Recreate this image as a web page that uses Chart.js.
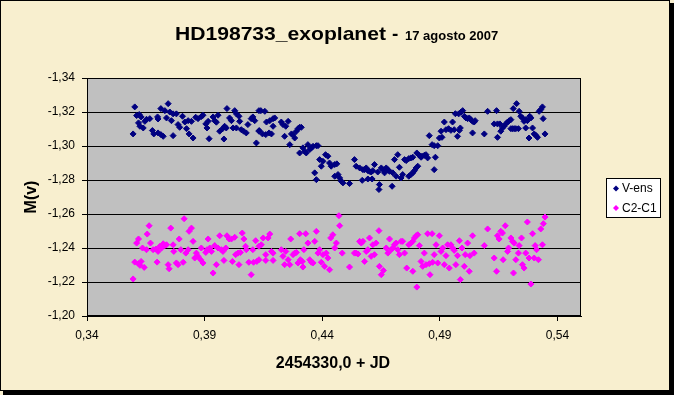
<!DOCTYPE html>
<html>
<head>
<meta charset="utf-8">
<title>HD198733_exoplanet</title>
<script src="https://cdn.jsdelivr.net/npm/chart.js@4.4.0/dist/chart.umd.min.js"></script>
<style>
  html, body { margin: 0; padding: 0; background: #fff; }
  canvas { display: block; }
</style>
</head>
<body>
<canvas id="chart" width="674" height="395"></canvas>
<script>
// axis ticks
const xTicks = [0.34, 0.39, 0.44, 0.49, 0.54];
const yTicks = [-1.34, -1.32, -1.30, -1.28, -1.26, -1.24, -1.22, -1.20];
const seriesNames = ['V-ens', 'C2-C1'];

// V-ens : JD fraction / magnitude
const vensJD = [
  0.3603,0.3596,0.3611,0.3622,0.3630,0.3619,0.3625,0.3639,0.3646,0.3653,
  0.3667,0.3678,0.3684,0.3702,0.3714,0.3724,0.3700,0.3702,0.3714,0.3731,
  0.3745,0.3752,0.3766,0.3780,0.3738,0.3759,0.3766,0.3787,0.3794,0.3806,
  0.3816,0.3823,0.3830,0.3834,0.3844,0.3851,0.3862,0.3872,0.3886,0.3893,
  0.3905,0.3910,0.3915,0.3919,0.3936,0.3943,0.3950,0.3957,0.3964,0.3975,
  0.3985,0.3982,0.3992,0.3995,0.4006,0.4014,0.4028,0.4035,0.4046,0.4021,
  0.4035,0.4049,0.4056,0.4066,0.4077,0.4084,0.4098,0.4105,0.4113,0.4120,
  0.4131,0.4131,
  0.4139,0.4156,0.4132,0.4146,0.4160,0.4174,0.4184,0.4163,0.4177,0.4191,
  0.4191,0.4198,0.4226,0.4233,0.4245,0.4255,0.4240,0.4262,0.4269,0.4276,
  0.4283,0.4290,0.4297,0.4304,0.4311,0.4304,0.4318,0.4325,0.4332,0.4339,
  0.4347,0.4354,0.4361,0.4375,0.4382,0.4368,0.4375,0.4389,0.4396,0.4403,
  0.4414,0.4424,0.4431,0.4438,0.4453,0.4462,0.4453,0.4467,0.4474,0.4481,
  0.4488,0.4516,0.4537,0.4544,0.4559,0.4573,0.4580,0.4587,0.4594,0.4601,
  0.4608,0.4615,0.4622,0.4636,0.4570,0.4594,0.4612,0.4643,0.4641,0.4651,
  0.4658,0.4665,0.4672,0.4679,0.4686,0.4697,0.4700,0.4707,0.4721,0.4728,
  0.4714,0.4735,0.4742,0.4750,0.4757,0.4768,0.4768,
  0.4777,0.4785,0.4777,0.4785,0.4792,0.4799,0.4806,0.4802,0.4813,0.4824,
  0.4834,0.4841,0.4848,0.4820,0.4881,0.4876,0.4855,0.4867,0.4876,0.4891,
  0.4898,0.4909,0.4905,0.4919,0.4926,0.4937,0.4947,0.4954,0.4961,0.4975,
  0.4983,0.4987,0.4966,0.4980,0.4990,0.4997,0.5004,0.5011,0.5018,0.5025,
  0.5032,0.5039,0.5046,0.5050,0.5039,0.5089,0.5103,0.5141,0.5131,0.5145,
  0.5155,0.5145,0.5159,0.5166,0.5173,0.5180,0.5188,0.5195,0.5202,0.5202,
  0.5209,0.5216,0.5223,0.5234,0.5212,0.5226,0.5237,0.5244,0.5251,0.5258,
  0.5265,0.5272,0.5282,0.5287,0.5265,0.5279,0.5294,0.5301,0.5308,0.5315,
  0.5322,0.5329,0.5336,0.5339,0.5347
];
const vensM = [
  -1.3230,-1.3071,-1.3179,-1.3185,-1.3171,-1.3136,-1.3116,-1.3106,-1.3145,-1.3157,
  -1.3161,-1.3091,-1.3071,-1.3077,-1.3067,-1.3057,-1.3171,-1.3159,-1.3220,-1.3208,
  -1.3249,-1.3200,-1.3189,-1.3189,-1.3165,-1.3149,-1.3061,-1.3126,-1.3110,-1.3175,
  -1.3141,-1.3102,-1.3149,-1.3071,-1.3145,-1.3047,-1.3169,-1.3161,-1.3173,-1.3181,
  -1.3130,-1.3106,-1.3145,-1.3043,-1.3171,-1.3149,-1.3140,-1.3181,-1.3087,-1.3100,
  -1.3116,-1.3041,-1.3106,-1.3220,-1.3165,-1.3149,-1.3208,-1.3189,-1.3175,-1.3106,
  -1.3106,-1.3145,-1.3096,-1.3087,-1.3077,-1.3126,-1.3161,-1.3171,-1.3149,-1.3018,
  -1.3208,-1.3087,
  -1.3208,-1.3204,-1.3091,-1.3071,-1.3067,-1.3077,-1.3071,-1.3141,-1.3149,-1.3161,
  -1.3116,-1.3165,-1.3141,-1.3126,-1.3116,-1.3145,-1.3057,-1.3008,-1.3071,-1.3067,
  -1.3047,-1.3087,-1.3102,-1.3110,-1.3110,-1.2959,-1.2989,-1.2969,-1.2959,-1.3008,
  -1.2979,-1.2989,-1.2998,-1.3002,-1.3002,-1.2842,-1.2802,-1.2920,-1.2881,-1.2910,
  -1.2949,-1.2940,-1.2900,-1.2881,-1.2891,-1.2895,-1.2822,-1.2832,-1.2812,-1.2793,
  -1.2783,-1.2779,-1.2920,-1.2881,-1.2871,-1.2861,-1.2861,-1.2871,-1.2855,-1.2851,
  -1.2847,-1.2855,-1.2891,-1.2847,-1.2798,-1.2806,-1.2806,-1.2773,-1.2744,-1.2871,
  -1.2861,-1.2842,-1.2871,-1.2861,-1.2851,-1.2763,-1.2842,-1.2920,-1.2949,-1.2875,
  -1.2822,-1.2812,-1.2832,-1.2920,-1.2914,-1.2926,-1.2822,
  -1.2930,-1.2934,-1.2832,-1.2842,-1.2855,-1.2871,-1.2881,-1.2959,-1.2945,-1.2940,
  -1.2945,-1.2949,-1.2930,-1.2934,-1.2934,-1.2861,-1.3061,-1.3008,-1.3002,-1.3002,
  -1.3047,-1.3051,-1.3087,-1.3141,-1.3096,-1.3102,-1.3092,-1.3141,-1.3096,-1.3057,
  -1.3092,-1.3106,-1.3190,-1.3189,-1.3200,-1.3208,-1.3175,-1.3165,-1.3161,-1.3165,
  -1.3155,-1.3145,-1.3141,-1.3149,-1.3077,-1.3071,-1.3204,-1.3208,-1.3130,-1.3130,
  -1.3130,-1.3051,-1.3087,-1.3106,-1.3116,-1.3130,-1.3141,-1.3149,-1.3155,-1.3102,
  -1.3102,-1.3102,-1.3102,-1.3102,-1.3220,-1.3249,-1.3204,-1.3175,-1.3165,-1.3145,
  -1.3155,-1.3149,-1.3175,-1.3165,-1.3106,-1.3047,-1.3106,-1.3071,-1.3063,-1.3051,
  -1.3204,-1.3214,-1.3230,-1.3161,-1.3071
];

// C2-C1 : JD fraction / magnitude
const c2c1JD = [
  0.3596,0.3603,0.3619,0.3625,0.3630,0.3643,0.3611,0.3619,0.3636,0.3653,
  0.3656,0.3664,0.3670,0.3681,0.3693,0.3702,0.3710,0.3717,0.3724,0.3731,
  0.3738,0.3698,0.3745,0.3749,0.3756,0.3766,0.3769,0.3780,0.3787,0.3792,
  0.3799,0.3809,0.3813,0.3820,0.3830,0.3834,0.3844,0.3851,0.3858,0.3865,
  0.3872,0.3883,0.3886,0.3893,0.3905,0.3910,0.3915,0.3922,0.3929,0.3936,
  0.3943,0.3950,0.3957,0.3964,0.3971,0.3978,0.3982,0.3990,0.3995,0.4004,
  0.4014,0.4018,0.4028,0.4032,0.4042,0.4046,0.4052,0.4060,0.4067,0.4074,
  0.4077,0.4088,0.4098,0.4105,0.4108,0.4117,0.4122,0.4131,0.4131,
  0.4141,0.4149,0.4160,0.4160,0.4170,0.4177,0.4184,0.4191,0.4191,0.4226,
  0.4233,0.4240,0.4245,0.4255,0.4262,0.4266,0.4276,0.4283,0.4290,0.4297,
  0.4304,0.4307,0.4315,0.4318,0.4322,0.4330,0.4339,0.4347,0.4354,0.4361,
  0.4368,0.4375,0.4382,0.4389,0.4396,0.4403,0.4410,0.4417,0.4424,0.4431,
  0.4436,0.4445,0.4453,0.4460,0.4471,0.4474,0.4485,0.4516,0.4537,0.4544,
  0.4552,0.4559,0.4566,0.4573,0.4580,0.4587,0.4594,0.4601,0.4608,0.4615,
  0.4622,0.4629,0.4641,0.4643,0.4651,0.4660,0.4672,0.4679,0.4686,0.4693,
  0.4700,0.4707,0.4714,0.4721,0.4728,0.4735,0.4742,0.4750,0.4759,0.4768,
  0.4777,0.4785,0.4792,0.4799,0.4806,0.4813,0.4785,0.4802,0.4820,0.4827,
  0.4834,0.4841,0.4848,0.4855,0.4858,0.4867,0.4869,0.4876,0.4884,0.4891,
  0.4898,0.4905,0.4912,0.4919,0.4926,0.4933,0.4940,0.4947,0.4954,0.4961,
  0.4968,0.4975,0.4983,0.4987,0.4994,0.5004,0.5008,0.5018,0.5025,0.5028,
  0.5039,0.5046,0.5089,0.5103,0.5131,0.5141,0.5145,0.5152,0.5159,0.5166,
  0.5178,0.5169,0.5188,0.5192,0.5202,0.5209,0.5213,0.5216,0.5223,0.5234,
  0.5237,0.5247,0.5251,0.5258,0.5265,0.5272,0.5279,0.5287,0.5294,0.5301,
  0.5305,0.5311,0.5319,0.5329,0.5336,0.5340,0.5347
];
const c2c1M = [
  -1.2218,-1.2317,-1.2308,-1.2298,-1.2321,-1.2286,-1.2429,-1.2453,-1.2400,-1.2390,
  -1.2482,-1.2531,-1.2429,-1.2390,-1.2394,-1.2380,-1.2410,-1.2400,-1.2425,-1.2414,
  -1.2419,-1.2317,-1.2302,-1.2278,-1.2517,-1.2419,-1.2380,-1.2312,-1.2302,-1.2453,
  -1.2390,-1.2316,-1.2572,-1.2370,-1.2390,-1.2498,-1.2517,-1.2439,-1.2341,-1.2370,
  -1.2351,-1.2331,-1.2400,-1.2312,-1.2374,-1.2390,-1.2453,-1.2400,-1.2380,-1.2253,
  -1.2414,-1.2302,-1.2400,-1.2472,-1.2390,-1.2380,-1.2327,-1.2400,-1.2472,-1.2453,
  -1.2453,-1.2321,-1.2463,-1.2361,-1.2370,-1.2302,-1.2374,-1.2488,-1.2453,-1.2410,
  -1.2390,-1.2316,-1.2243,-1.2390,-1.2316,-1.2443,-1.2321,-1.2331,-1.2410,
  -1.2419,-1.2459,-1.2361,-1.2327,-1.2459,-1.2482,-1.2380,-1.2370,-1.2327,-1.2390,
  -1.2351,-1.2302,-1.2380,-1.2331,-1.2302,-1.2453,-1.2361,-1.2370,-1.2374,-1.2312,
  -1.2484,-1.2331,-1.2321,-1.2288,-1.2390,-1.2484,-1.2429,-1.2331,-1.2316,-1.2312,
  -1.2439,-1.2498,-1.2370,-1.2390,-1.2316,-1.2361,-1.2292,-1.2370,-1.2341,-1.2272,
  -1.2459,-1.2478,-1.2400,-1.2429,-1.2590,-1.2531,-1.2370,-1.2288,-1.2370,-1.2370,
  -1.2365,-1.2439,-1.2429,-1.2439,-1.2321,-1.2380,-1.2390,-1.2459,-1.2351,-1.2419,
  -1.2361,-1.2429,-1.2502,-1.2292,-1.2243,-1.2268,-1.2400,-1.2370,-1.2453,-1.2390,
  -1.2400,-1.2419,-1.2429,-1.2390,-1.2361,-1.2439,-1.2439,-1.2370,-1.2282,-1.2419,
  -1.2429,-1.2439,-1.2459,-1.2472,-1.2478,-1.2414,-1.2263,-1.2170,-1.2321,-1.2292,
  -1.2370,-1.2302,-1.2484,-1.2308,-1.2243,-1.2484,-1.2316,-1.2361,-1.2419,-1.2312,
  -1.2472,-1.2380,-1.2400,-1.2302,-1.2355,-1.2419,-1.2282,-1.2419,-1.2400,-1.2386,
  -1.2302,-1.2355,-1.2443,-1.2214,-1.2400,-1.2292,-1.2361,-1.2429,-1.2263,-1.2355,
  -1.2472,-1.2370,-1.2414,-1.2512,-1.2341,-1.2263,-1.2472,-1.2453,-1.2498,-1.2488,
  -1.2531,-1.2331,-1.2380,-1.2400,-1.2459,-1.2439,-1.2253,-1.2429,-1.2331,-1.2370,
  -1.2414,-1.2459,-1.2302,-1.2282,-1.2370,-1.2553,-1.2341,-1.2188,-1.2484,-1.2341,
  -1.2414,-1.2390,-1.2331,-1.2512,-1.2419,-1.2543,-1.2582
];

const FONT = 'Arial, "Liberation Sans", sans-serif';
const toPoints = (xs, ys) => xs.map((x, i) => ({ x: x, y: ys[i] }));
const fmt = v => v.toFixed(2).replace('.', ',');

// draw text squeezed / stretched to a given width
function fitText(ctx, text, x, y, width) {
  const w = ctx.measureText(text).width;
  ctx.save();
  ctx.translate(x, y);
  ctx.scale(width / w, 1);
  ctx.fillText(text, 0, 0);
  ctx.restore();
}

function diamond(ctx, x, y, r) {
  ctx.beginPath();
  ctx.moveTo(x, y - r);
  ctx.lineTo(x + r, y);
  ctx.lineTo(x, y + r);
  ctx.lineTo(x - r, y);
  ctx.closePath();
  ctx.fill();
}

// excel-like frame, title, axis titles and legend
const framePlugin = {
  id: 'frame',
  beforeDraw(chart) {
    const { ctx, chartArea: a } = chart;
    ctx.save();
    ctx.fillStyle = '#F8EFCF';
    ctx.fillRect(0, 0, chart.width, chart.height);
    ctx.fillStyle = '#C0C0C0';
    ctx.fillRect(a.left, a.top, a.right - a.left, a.bottom - a.top);
    ctx.restore();
  },
  afterDraw(chart) {
    const { ctx, chartArea: a } = chart;
    ctx.save();

    // plot border
    ctx.strokeStyle = '#000';
    ctx.lineWidth = 1;
    ctx.strokeRect(Math.round(a.left) + 0.5, Math.round(a.top) + 0.5,
      Math.round(a.right - a.left) - 1, Math.round(a.bottom - a.top) - 1);

    // outer border with shadow
    ctx.strokeRect(0.5, 0.5, 669, 390);
    ctx.fillStyle = '#000';
    ctx.fillRect(670, 3, 4, 392);
    ctx.fillRect(3, 391, 671, 4);

    // title
    ctx.fillStyle = '#000';
    ctx.textBaseline = 'alphabetic';
    ctx.textAlign = 'left';
    ctx.font = 'bold 19px ' + FONT;
    fitText(ctx, 'HD198733_exoplanet', 175, 39.5, 211);
    ctx.fillText('-', 392, 39.5);
    ctx.font = 'bold 13px ' + FONT;
    ctx.fillText('17 agosto 2007', 405, 39.5);

    // axis titles
    ctx.font = 'bold 16px ' + FONT;
    ctx.textAlign = 'center';
    ctx.textBaseline = 'middle';
    ctx.fillText('2454330,0 + JD', 333, 364);
    ctx.save();
    ctx.translate(32, 197);
    ctx.rotate(-Math.PI / 2);
    ctx.fillText('M(v)', 0, 0);
    ctx.restore();

    // legend
    ctx.fillStyle = '#fff';
    ctx.fillRect(606.5, 178.5, 54, 39);
    ctx.strokeStyle = '#000';
    ctx.strokeRect(606.5, 178.5, 54, 39);
    ctx.font = '12px ' + FONT;
    ctx.textAlign = 'left';
    ctx.textBaseline = 'middle';
    chart.data.datasets.forEach((ds, i) => {
      const y = 188.5 + i * 19.5;
      ctx.fillStyle = ds.backgroundColor;
      diamond(ctx, 616, y, 3);
      ctx.fillStyle = '#000';
      ctx.fillText(seriesNames[i], 622, y + 0.5);
    });

    ctx.restore();
  }
};

new Chart(document.getElementById('chart'), {
  type: 'scatter',
  data: {
    datasets: [
      {
        label: seriesNames[0],
        data: toPoints(vensJD, vensM),
        backgroundColor: '#000080',
        borderColor: '#000080',
        pointStyle: 'rectRot',
        pointRadius: 3,
        pointBorderWidth: 1
      },
      {
        label: seriesNames[1],
        data: toPoints(c2c1JD, c2c1M),
        backgroundColor: '#FF00FF',
        borderColor: '#FF00FF',
        pointStyle: 'rectRot',
        pointRadius: 3,
        pointBorderWidth: 1
      }
    ]
  },
  options: {
    responsive: false,
    animation: false,
    layout: { padding: { top: 78, right: 93, left: 0, bottom: 0 } },
    plugins: {
      legend: { display: false },
      title: { display: false },
      tooltip: { enabled: false }
    },
    scales: {
      x: {
        type: 'linear',
        min: 0.34,
        max: 0.55,
        afterFit(scale) { scale.height = 79; },
        afterBuildTicks(scale) { scale.ticks = xTicks.map(v => ({ value: v })); },
        grid: { drawOnChartArea: false, color: '#000', tickLength: 5 },
        border: { color: '#000' },
        ticks: {
          color: '#000',
          font: { family: FONT, size: 12 },
          padding: 7,
          maxRotation: 0,
          callback: v => fmt(v)
        }
      },
      y: {
        type: 'linear',
        min: -1.34,
        max: -1.20,
        reverse: true,
        afterFit(scale) { scale.width = 87; },
        afterBuildTicks(scale) { scale.ticks = yTicks.map(v => ({ value: v })); },
        grid: { color: '#000', tickLength: 5 },
        border: { color: '#000' },
        ticks: {
          color: '#000',
          font: { family: FONT, size: 12 },
          padding: 7,
          callback: v => fmt(v)
        }
      }
    }
  },
  plugins: [framePlugin]
});
</script>
</body>
</html>
